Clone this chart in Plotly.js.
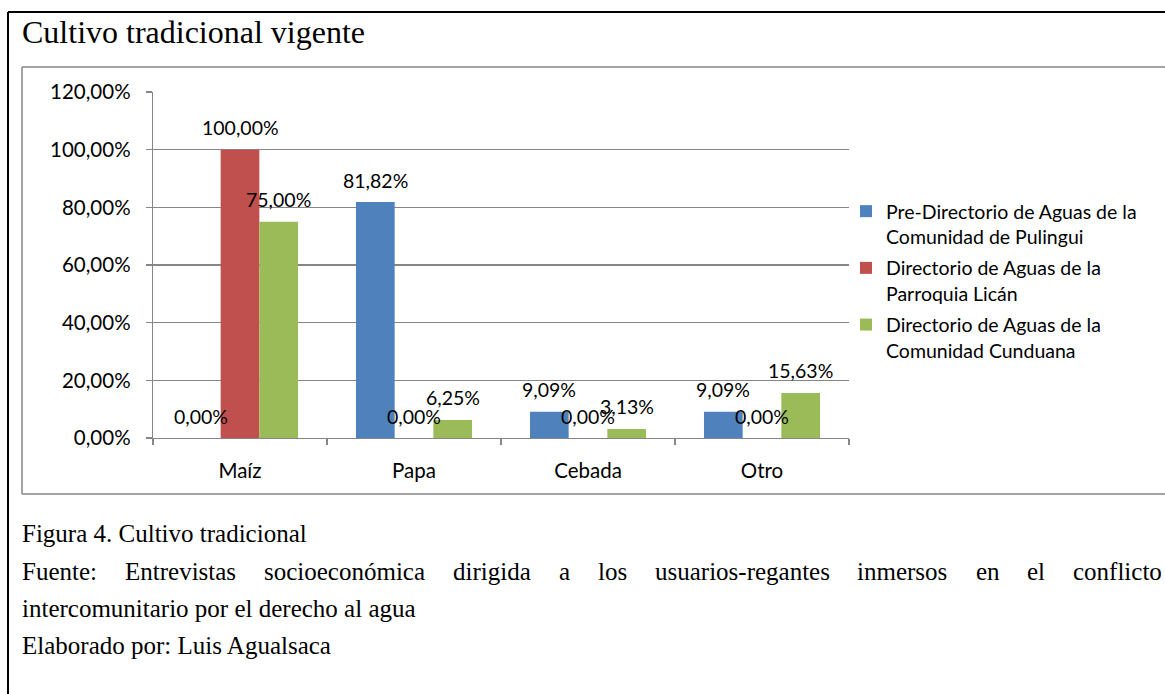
<!DOCTYPE html>
<html>
<head>
<meta charset="utf-8">
<script src="https://cdn.plot.ly/plotly-3.0.1.min.js"></script>
<style>
html,body{margin:0;padding:0;background:#fff;}
#chart{width:1165px;height:694px;}
</style>
</head>
<body>
<div id="chart"></div>
<script>
// ---- data ----
const categories = ['Maíz', 'Papa', 'Cebada', 'Otro'];
const seriesNames = [
  'Pre-Directorio de Aguas de la<br>Comunidad de Pulingui',
  'Directorio de Aguas de la<br>Parroquia Licán',
  'Directorio de Aguas de la<br>Comunidad Cunduana'
];
const pulingui = [0, 81.82, 9.09, 9.09];
const lican = [100, 0, 0, 0];
const cunduana = [75, 6.25, 3.13, 15.63];
const yTickValues = [0, 20, 40, 60, 80, 100, 120];
const chartTitle = 'Cultivo tradicional vigente';
const captionFigure = 'Figura 4. Cultivo tradicional';
const captionSourceLine1 = 'Fuente: Entrevistas socioeconómica dirigida a los usuarios-regantes inmersos en el conflicto';
const captionSourceLine2 = 'intercomunitario por el derecho al agua';
const captionAuthor = 'Elaborado por: Luis Agualsaca';

// ---- styling / layout ----
const colors = ['#4F81BD', '#C0504D', '#9BBB59'];
const W = 1165, H = 694;
const plotL = 153, plotR = 849, plotT = 92, plotB = 438;
const plotW = plotR - plotL, plotH = plotB - plotT;
const bargap = 0.333;
const chartFont = 'Lato, "Open Sans", sans-serif';
const chartFontSize = 19.5;
const tickFontSize = 20.5;
const serifFont = '"Liberation Serif", "Times New Roman", serif';
const captionSize = 25;
const gray = '#868686';

const fmt = v => v.toFixed(2).replace('.', ',') + '%';
const px2x = px => (px - plotL) / plotW;
const py2y = py => (plotB - py) / plotH;

const seriesValues = [pulingui, lican, cunduana];
const traces = seriesValues.map((vals, i) => ({
  type: 'bar',
  name: seriesNames[i],
  legendgroup: 'g' + i,
  x: categories,
  y: vals,
  marker: {color: colors[i]},
  hoverinfo: 'skip'
}));

// data labels
const barW = plotW / categories.length * (1 - bargap) / seriesValues.length;
const annotations = [];
seriesValues.forEach((vals, s) => {
  vals.forEach((v, c) => {
    annotations.push({
      xref: 'x', yref: 'y', x: categories[c], y: v,
      xshift: (s - 1) * barW, yshift: 22,
      text: fmt(v), showarrow: false,
      font: {family: chartFont, size: chartFontSize, color: '#000'},
      xanchor: 'center', yanchor: 'middle'
    });
  });
});

// title and captions
const serifAnn = (text, px, py, size) => ({
  xref: 'paper', yref: 'paper', x: px2x(px), y: py2y(py),
  xanchor: 'left', yanchor: 'middle', text: text, showarrow: false,
  font: {family: serifFont, size: size, color: '#000'}
});
annotations.push(serifAnn(chartTitle, 20, 32, 32));
annotations.push(serifAnn(captionFigure, 20, 533, captionSize));
annotations.push(serifAnn(captionSourceLine2, 20, 608, captionSize));
annotations.push(serifAnn(captionAuthor, 20, 645, captionSize));

// justified source line
(function () {
  const words = captionSourceLine1.split(' ');
  const cv = document.createElement('canvas').getContext('2d');
  cv.font = captionSize + 'px "Liberation Serif"';
  const widths = words.map(w => cv.measureText(w).width);
  const left = 21, right = 1161;
  const total = widths.reduce((a, b) => a + b, 0);
  const gap = (right - left - total) / (words.length - 1);
  let xpos = left;
  words.forEach((w, i) => {
    annotations.push(serifAnn(w, xpos - 1, 571, captionSize));
    xpos += widths[i] + gap;
  });
})();

const shapes = [
  // outer black frame
  {type: 'line', xref: 'paper', yref: 'paper', x0: px2x(8), x1: px2x(1200), y0: py2y(12), y1: py2y(12), line: {color: '#000', width: 2}},
  {type: 'line', xref: 'paper', yref: 'paper', x0: px2x(8), x1: px2x(8), y0: py2y(12), y1: py2y(720), line: {color: '#000', width: 2}},
  // chart area border (left, top, bottom; right edge lies beyond the page)
  {type: 'line', xref: 'paper', yref: 'paper', x0: px2x(22), x1: px2x(1200), y0: py2y(67), y1: py2y(67), line: {color: gray, width: 1.5}},
  {type: 'line', xref: 'paper', yref: 'paper', x0: px2x(22), x1: px2x(1200), y0: py2y(494), y1: py2y(494), line: {color: gray, width: 1.5}},
  {type: 'line', xref: 'paper', yref: 'paper', x0: px2x(22), x1: px2x(22), y0: py2y(67), y1: py2y(494), line: {color: gray, width: 1.5}}
];

const layout = {
  width: W, height: H,
  margin: {l: plotL, r: W - plotR, t: plotT, b: H - plotB, pad: 0},
  paper_bgcolor: '#fff', plot_bgcolor: '#fff',
  barmode: 'group', bargap: bargap, bargroupgap: 0,
  font: {family: chartFont, size: chartFontSize, color: '#000'},
  showlegend: true,
  legend: {
    x: px2x(846), y: py2y(192), xanchor: 'left', yanchor: 'top',
    font: {family: chartFont, size: chartFontSize, color: '#000'},
    valign: 'top', bgcolor: 'rgba(0,0,0,0)', tracegroupgap: 3
  },
  xaxis: {
    type: 'category', showline: true, linecolor: gray, linewidth: 1.3,
    ticks: 'outside', tickson: 'boundaries', ticklen: 6, tickcolor: gray, tickwidth: 1.3,
    showgrid: false, zeroline: false, ticklabelstandoff: 14,
    tickfont: {family: chartFont, size: tickFontSize, color: '#000'}
  },
  yaxis: {
    range: [0, 120], tickvals: yTickValues, ticktext: yTickValues.map(fmt),
    showgrid: true, gridcolor: gray, gridwidth: 1.3,
    showline: true, linecolor: gray, linewidth: 1.3,
    ticks: 'outside', ticklen: 6, tickcolor: gray, tickwidth: 1.3,
    zeroline: false, ticklabelstandoff: 11,
    tickfont: {family: chartFont, size: tickFontSize, color: '#000'}
  },
  shapes: shapes,
  annotations: annotations
};

Plotly.newPlot('chart', traces, layout, {staticPlot: true, displayModeBar: false});
</script>
</body>
</html>
